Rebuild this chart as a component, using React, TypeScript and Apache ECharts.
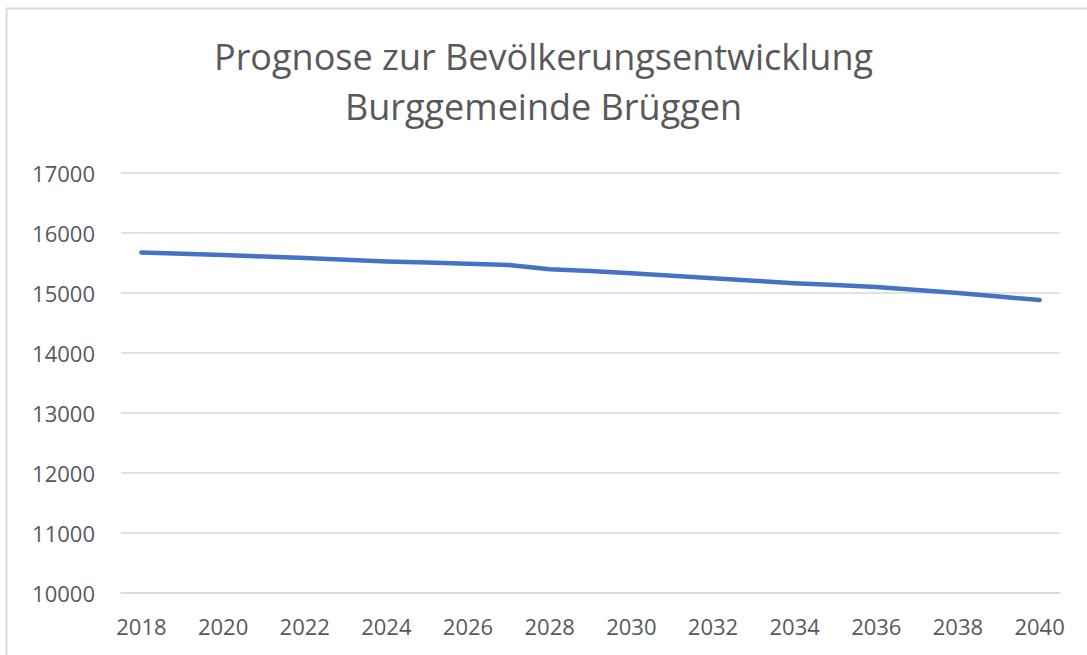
import React, { useEffect, useRef } from "react";
import * as echarts from "echarts";

const years: string[] = [
  "2018", "2019", "2020", "2021", "2022", "2023", "2024", "2025", "2026", "2027", "2028",
  "2029", "2030", "2031", "2032", "2033", "2034", "2035", "2036", "2037", "2038", "2039", "2040",
];
const population: number[] = [
  15673, 15653, 15633, 15608, 15583, 15555, 15527, 15507, 15487, 15467, 15395,
  15367, 15330, 15288, 15247, 15205, 15163, 15132, 15100, 15050, 15000, 14942, 14883,
];
const titleLines: string[] = ["Prognose zur Bevölkerungsentwicklung", "Burggemeinde Brüggen"];
const yMin = 10000;
const yMax = 17000;
const yStep = 1000;

const FONT = "'Open Sans', 'Liberation Sans', sans-serif";
const TEXT_COLOR = "#595959";
const GRID_COLOR = "#d9d9d9";

export default function App() {
  const ref = useRef<HTMLDivElement>(null);
  useEffect(() => {
    if (!ref.current) return;
    const chart = echarts.init(ref.current, null, { renderer: "svg" });
    chart.setOption({
      animation: false,
      backgroundColor: "#ffffff",
      title: {
        text: titleLines.join("\n"),
        left: "center",
        top: 26,
        textStyle: {
          fontFamily: FONT,
          fontSize: 36,
          fontWeight: "normal",
          color: TEXT_COLOR,
          lineHeight: 50,
          align: "center",
        },
      },
      graphic: [
        {
          type: "rect",
          shape: { x: 6.5, y: 8.5, width: 1200, height: 800 },
          style: { fill: "none", stroke: GRID_COLOR, lineWidth: 2 },
          silent: true,
        },
      ],
      grid: { left: 121, right: 27, top: 173, bottom: 62, containLabel: false },
      xAxis: {
        type: "category",
        data: years,
        boundaryGap: true,
        axisLine: { show: true, lineStyle: { color: GRID_COLOR, width: 1.5 } },
        axisTick: { show: false },
        axisLabel: {
          interval: 1,
          color: TEXT_COLOR,
          fontFamily: FONT,
          fontSize: 22,
          margin: 22,
        },
      },
      yAxis: {
        type: "value",
        min: yMin,
        max: yMax,
        interval: yStep,
        axisLine: { show: false },
        axisTick: { show: false },
        splitLine: { lineStyle: { color: GRID_COLOR, width: 1.5 } },
        axisLabel: {
          color: TEXT_COLOR,
          fontFamily: FONT,
          fontSize: 22,
          margin: 26,
          formatter: (v: number) => String(v),
        },
      },
      series: [
        {
          type: "line",
          data: population,
          symbol: "none",
          smooth: false,
          lineStyle: { color: "#4472C4", width: 4.5, cap: "round", join: "round" },
        },
      ],
    });
    return () => chart.dispose();
  }, []);
  return (
    <div
      ref={ref}
      style={{ position: "absolute", left: 0, top: 0, width: 1087, height: 655 }}
    />
  );
}
